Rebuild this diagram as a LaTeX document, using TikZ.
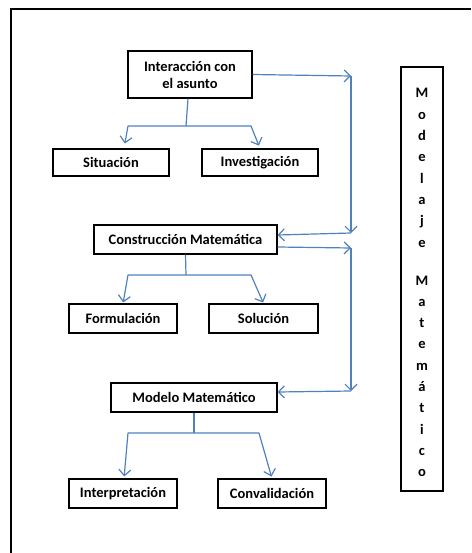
\documentclass[tikz,border=0pt]{standalone}
\usepackage{fontspec}
\setmainfont{Carlito}
\usetikzlibrary{arrows.meta}
\definecolor{linkblue}{RGB}{79,129,189}

\begin{document}
\begin{tikzpicture}[x=1pt,y=-1pt,
  box/.style={draw,line width=1.1pt,inner sep=0pt,align=center,font=\bfseries\fontsize{14.5}{17}\selectfont},
  letter/.style={anchor=base,inner sep=0pt,font=\bfseries\fontsize{14.5}{17}\selectfont},
  link/.style={draw=linkblue,line width=1.2pt,line join=round},
  arr/.style={link,-{Straight Barb[length=6pt,width=12pt,line width=1.2pt]}}]
  \useasboundingbox (0,0) rectangle (471,553);
  % frame
  \draw[line width=1.6pt] (11,553) -- (11,9) -- (471,9);
  % boxes
  \node[box,minimum width=124pt,minimum height=47pt] (inter) at (190,74.5) {Interacción con\\el asunto};
  \node[box,minimum width=116pt,minimum height=27pt] (sit) at (111,162.5) {Situación};
  \node[box,minimum width=116pt,minimum height=27pt] (inv) at (260,162.5) {Investigación};
  \node[box,minimum width=183pt,minimum height=29pt] (cons) at (185.5,239.5) {Construcción Matemática};
  \node[box,minimum width=108pt,minimum height=29pt] (form) at (123,318.5) {Formulación};
  \node[box,minimum width=109pt,minimum height=29pt] (sol) at (263.5,318.5) {Solución};
  \node[box,minimum width=166pt,minimum height=29pt] (mod) at (194,397.5) {Modelo Matemático};
  \node[box,minimum width=108pt,minimum height=29pt] (interp) at (123,493.5) {Interpretación};
  \node[box,minimum width=108pt,minimum height=29pt] (conv) at (272,493.5) {Convalidación};
  % side column
  \node[draw,line width=1.1pt,minimum width=42pt,minimum height=424pt] (modelaje) at (422,279) {};
  \foreach \ch [count=\k from 0] in {M,o,d,e,l,a,j,e}
    \node[letter] (a\k) at (422,{98+21.3*\k}) {\ch};
  \foreach \ch [count=\k from 0] in {M,a,t,e,m,á,t,i,c,o}
    \node[letter] (b\k) at (422,{285+21.3*\k}) {\ch};
  % first tree
  \coordinate (j1) at (186,126);
  \draw[link] ([xshift=-2pt]inter.south) -- (j1);
  \draw[arr,shorten >=5pt] (j1) -- (128,126) -- ([xshift=13pt]sit.north);
  \draw[arr,shorten >=3pt] (j1) -- (251,126) -- (inv.north);
  % right side loops
  \coordinate (r1) at (351,76);
  \coordinate (r2) at (351,233);
  \coordinate (r3) at (351,248);
  \coordinate (r4) at (351,391);
  \draw[arr] (inter.east) -- (r1);
  \draw[arr] (r1) -- (r2);
  \draw[arr] (r2) -- ([yshift=4.5pt]cons.east);
  \draw[arr] ([yshift=-7.5pt]cons.east) -- (r3);
  \draw[arr] (r3) -- (r4);
  \draw[arr] (r4) -- ([yshift=5.5pt]mod.east);
  % second tree
  \coordinate (j2) at (186,275);
  \draw[link] (cons.south) -- (j2);
  \draw[arr,shorten >=1pt] (j2) -- (128,275) -- (form.north);
  \draw[arr,shorten >=1pt] (j2) -- (251,275) -- (sol.north);
  % third tree
  \coordinate (j3) at (194,433);
  \draw[link] (mod.south) -- (j3);
  \draw[arr,shorten >=2pt] (j3) -- (128,433) -- ([xshift=1pt]interp.north);
  \draw[arr,shorten >=2pt] (j3) -- (259,433) -- (conv.north);
\end{tikzpicture}
\end{document}
